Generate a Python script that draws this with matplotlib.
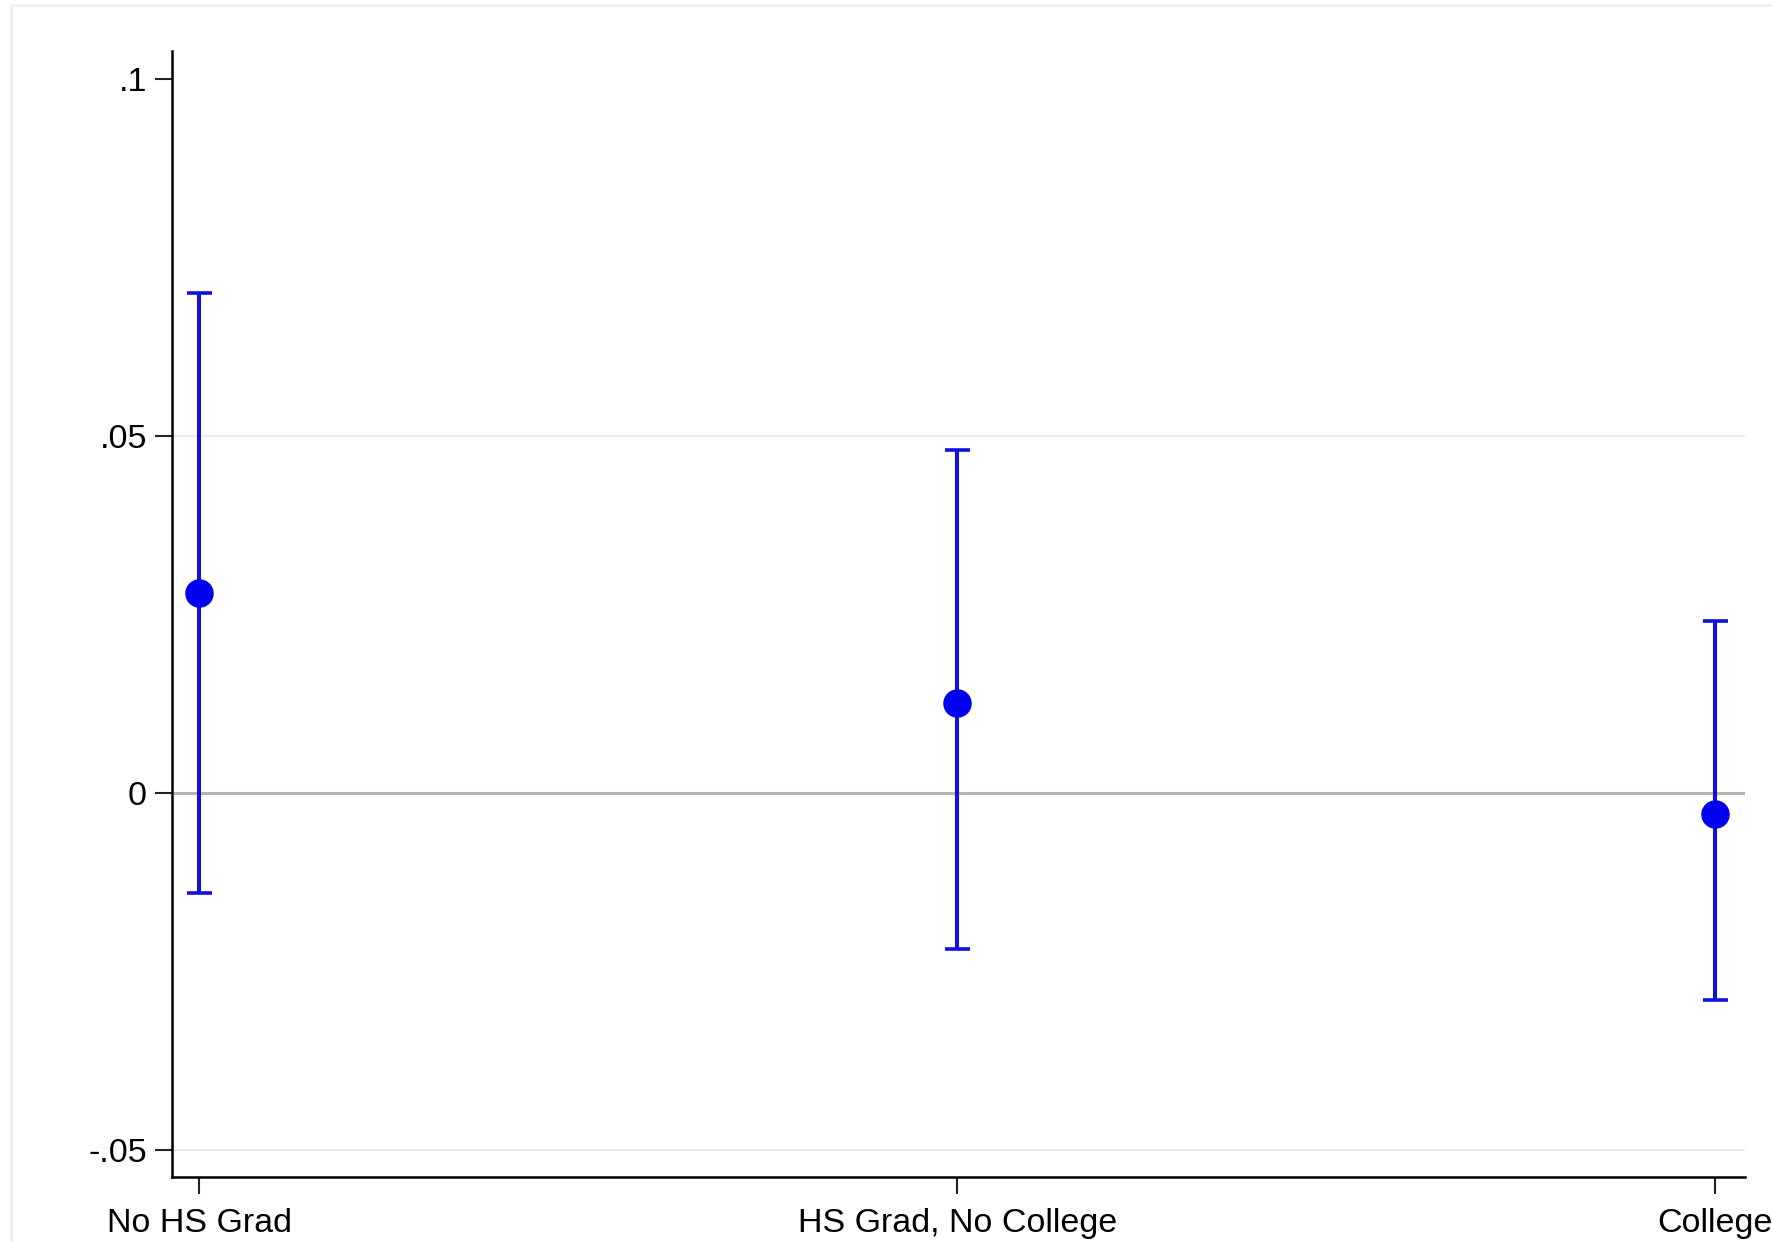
import matplotlib.pyplot as plt
from matplotlib.patches import Rectangle

groups = ['No HS Grad', 'HS Grad, No College', 'College']
estimates = [0.0280, 0.0127, -0.0029]
ci_low = [-0.0139, -0.0218, -0.0290]
ci_high = [0.0701, 0.0481, 0.0241]

ytick_vals = [-0.05, 0, 0.05, 0.1]
ytick_labels = ['-.05', '0', '.05', '.1']


def main():
    plt.rcParams['font.family'] = ['Liberation Sans', 'DejaVu Sans']

    fig = plt.figure(figsize=(17.72, 12.42), dpi=100)
    # faint outer frame, cut off on the right and bottom like the source image
    fig.patches.append(Rectangle((0.006, -0.05), 1.2, 1.046, transform=fig.transFigure,
                                 fill=False, edgecolor='#f0f0f0', linewidth=2))
    ax = fig.add_axes([0.097, 0.052, 0.888, 0.907])

    x = list(range(len(groups)))
    err_lo = [e - l for e, l in zip(estimates, ci_low)]
    err_hi = [h - e for e, h in zip(estimates, ci_high)]

    # light gridlines and the zero line
    for v in [-0.05, 0.05]:
        ax.axhline(v, color='#ececec', linewidth=1.5, zorder=0)
    ax.axhline(0, color='#b4b4b4', linewidth=2.2, zorder=1)

    ax.errorbar(x, estimates, yerr=[err_lo, err_hi], fmt='o', color='#0000f0',
                ecolor='#1010e0', elinewidth=2.9, capsize=9, capthick=2.6,
                markersize=19.5, zorder=3)

    ax.set_xlim(-0.036, 2.04)
    ax.set_ylim(-0.0538, 0.104)
    ax.set_xticks(x)
    ax.set_xticklabels(groups)
    ax.set_yticks(ytick_vals)
    ax.set_yticklabels(ytick_labels)
    ax.tick_params(axis='both', labelsize=24.5, length=12, width=1.5, color='#222222')
    ax.tick_params(axis='y', pad=6)
    ax.tick_params(axis='x', pad=10)

    ax.spines['top'].set_visible(False)
    ax.spines['right'].set_visible(False)
    ax.spines['left'].set_linewidth(1.8)
    ax.spines['bottom'].set_linewidth(1.8)

    fig.savefig('out.png', dpi=100)


if __name__ == "__main__":
    main()
